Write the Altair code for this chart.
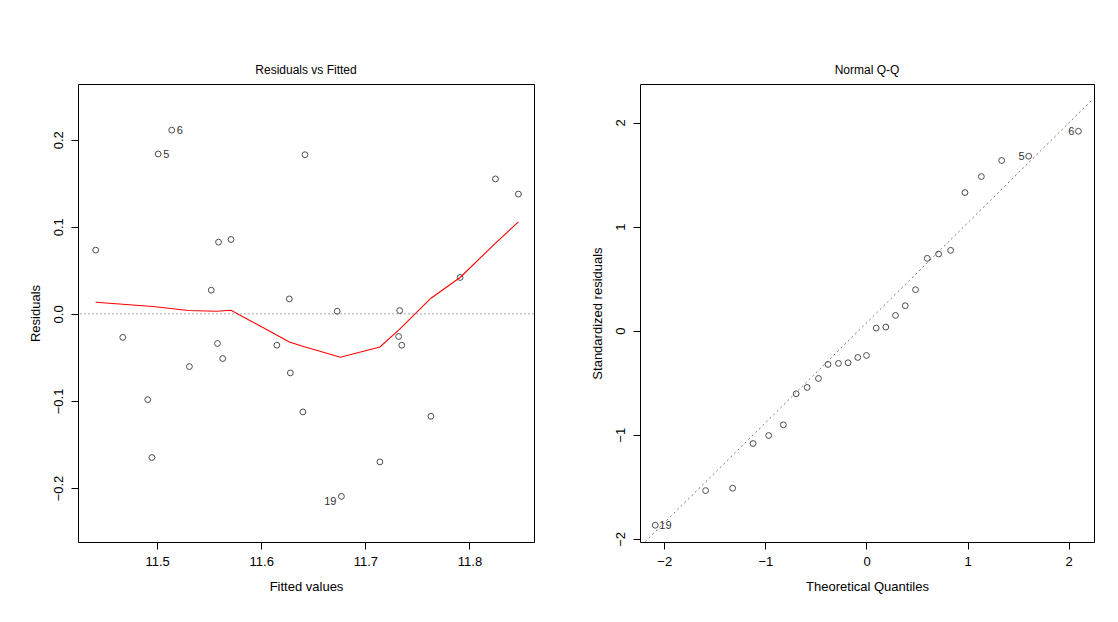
import pandas as pd
import altair as alt

# Residuals vs Fitted
fitted = [11.441, 11.467, 11.491, 11.495, 11.501, 11.514, 11.531, 11.552, 11.559,
          11.558, 11.563, 11.571, 11.615, 11.627, 11.628, 11.642, 11.640, 11.673,
          11.677, 11.714, 11.733, 11.732, 11.735, 11.763, 11.791, 11.825, 11.847]
resid = [0.0732, -0.027, -0.0985, -0.165, 0.1836, 0.211, -0.0605, 0.0272, 0.0824,
         -0.034, -0.0513, 0.0854, -0.036, 0.0172, -0.0678, 0.1828, -0.1126, 0.003,
         -0.2096, -0.17, 0.0038, -0.026, -0.036, -0.1176, 0.0418, 0.155, 0.1376]
left_ids = ["", "", "", "", "5", "6", "", "", "", "", "", "", "", "", "", "", "",
            "", "19", "", "", "", "", "", "", "", ""]

smooth_x = [11.441, 11.496, 11.530, 11.557, 11.571, 11.627, 11.639, 11.676, 11.714,
            11.733, 11.763, 11.791, 11.824, 11.847]
smooth_y = [0.0134, 0.0084, 0.0038, 0.003, 0.0042, -0.0322, -0.0368, -0.0498, -0.038,
            -0.0176, 0.018, 0.0418, 0.080, 0.1057]

# Normal Q-Q
theo = [-2.089, -1.591, -1.324, -1.122, -0.967, -0.822, -0.696, -0.587, -0.475, -0.380,
        -0.277, -0.182, -0.086, 0.0, 0.096, 0.191, 0.287, 0.383, 0.485, 0.601, 0.713,
        0.832, 0.974, 1.136, 1.337, 1.604, 2.096]
std_resid = [-1.869, -1.536, -1.513, -1.084, -1.007, -0.904, -0.606, -0.545, -0.459,
             -0.324, -0.314, -0.308, -0.257, -0.238, 0.025, 0.035, 0.147, 0.240, 0.394,
             0.695, 0.737, 0.772, 1.327, 1.481, 1.635, 1.676, 1.916]
qq_ids = ["19"] + [""] * 24 + ["5", "6"]
qq_line_x = [-2.188, 2.235]
qq_line_y = [-2.026, 2.221]

FONT = "Liberation Sans"
H = 458

left_df = pd.DataFrame({"x": fitted, "y": resid, "id": left_ids})
smooth_df = pd.DataFrame({"x": smooth_x, "y": smooth_y, "order": range(len(smooth_x))})
qq_df = pd.DataFrame({"x": theo, "y": std_resid, "id": qq_ids})
qql_df = pd.DataFrame({"x": qq_line_x, "y": qq_line_y})


def axis(values, title, vertical=False, fmt=None):
    kw = dict(values=values, title=title, grid=False, domain=False,
              tickColor="black", tickSize=7, labelColor="black",
              labelFont=FONT, labelFontSize=13, titleFont=FONT,
              titleFontSize=13, titleFontWeight="normal", titleColor="black",
              labelAngle=-90 if vertical else 0, labelAlign="center",
              labelBaseline="bottom" if vertical else "top",
              labelPadding=6, titlePadding=10 if vertical else 12)
    if fmt:
        kw["format"] = fmt
    return alt.Axis(**kw)


lx = alt.X("x:Q", scale=alt.Scale(domain=[11.424, 11.862], nice=False, zero=False),
           axis=axis([11.5, 11.6, 11.7, 11.8], "Fitted values"))
ly = alt.Y("y:Q", scale=alt.Scale(domain=[-0.262, 0.264], nice=False),
           axis=axis([-0.2, -0.1, 0.0, 0.1, 0.2], "Residuals", True, ".1f"))

zero = alt.Chart(pd.DataFrame({"y": [0.0]})).mark_rule(
    color="#aaaaaa", strokeDash=[2, 2], strokeWidth=1).encode(y=alt.Y("y:Q"))
pts = alt.Chart(left_df).mark_point(shape="circle", filled=False, color="black",
                                   size=34, strokeWidth=1).encode(x=lx, y=ly)
smooth = alt.Chart(smooth_df).mark_line(color="#ff0000", strokeWidth=1.1).encode(
    x=lx, y=ly, order="order:Q")
lab_r = alt.Chart(left_df[left_df.id.isin(["5", "6"])]).mark_text(
    align="left", dx=5, dy=1, font=FONT, fontSize=11, color="#333333"
).encode(x=lx, y=ly, text="id:N")
lab_l = alt.Chart(left_df[left_df.id == "19"]).mark_text(
    align="right", dx=-5, dy=6, font=FONT, fontSize=11, color="#333333"
).encode(x=lx, y=ly, text="id:N")

view = alt.ViewBackground(stroke="black", strokeWidth=1)

left = alt.layer(zero, pts, lab_r, lab_l, smooth).properties(
    width=456, height=H, view=view,
    title=alt.TitleParams("Residuals vs Fitted", font=FONT, fontSize=12,
                          fontWeight="normal", offset=7))

qx = alt.X("x:Q", scale=alt.Scale(domain=[-2.24, 2.25], nice=False),
           axis=axis([-2, -1, 0, 1, 2], "Theoretical Quantiles"))
qy = alt.Y("y:Q", scale=alt.Scale(domain=[-2.03, 2.37], nice=False),
           axis=axis([-2, -1, 0, 1, 2], "Standardized residuals", True))

qline = alt.Chart(qql_df).mark_line(color="#777777", strokeDash=[2, 3],
                                    strokeWidth=1, clip=True).encode(x=qx, y=qy)
qpts = alt.Chart(qq_df).mark_point(shape="circle", filled=False, color="black",
                                  size=34, strokeWidth=1).encode(x=qx, y=qy)
qlab_r = alt.Chart(qq_df[qq_df.id == "19"]).mark_text(
    align="left", dx=4, dy=1, font=FONT, fontSize=11, color="#333333"
).encode(x=qx, y=qy, text="id:N")
qlab_l = alt.Chart(qq_df[qq_df.id.isin(["5", "6"])]).mark_text(
    align="right", dx=-4, dy=1, font=FONT, fontSize=11, color="#333333"
).encode(x=qx, y=qy, text="id:N")

right = alt.layer(qline, qpts, qlab_r, qlab_l).properties(
    width=454, height=H, view=view,
    title=alt.TitleParams("Normal Q-Q", font=FONT, fontSize=12,
                          fontWeight="normal", offset=7))

chart = (
    alt.hconcat(left, right, spacing=55)
    .properties(padding={"left": 20, "top": 55, "right": 5, "bottom": 5})
    .configure_view(stroke="black", strokeWidth=1)
    .configure_title(color="black")
    .configure(background="white")
)

chart.save("out.html", embed_options={"renderer": "svg", "actions": False})
